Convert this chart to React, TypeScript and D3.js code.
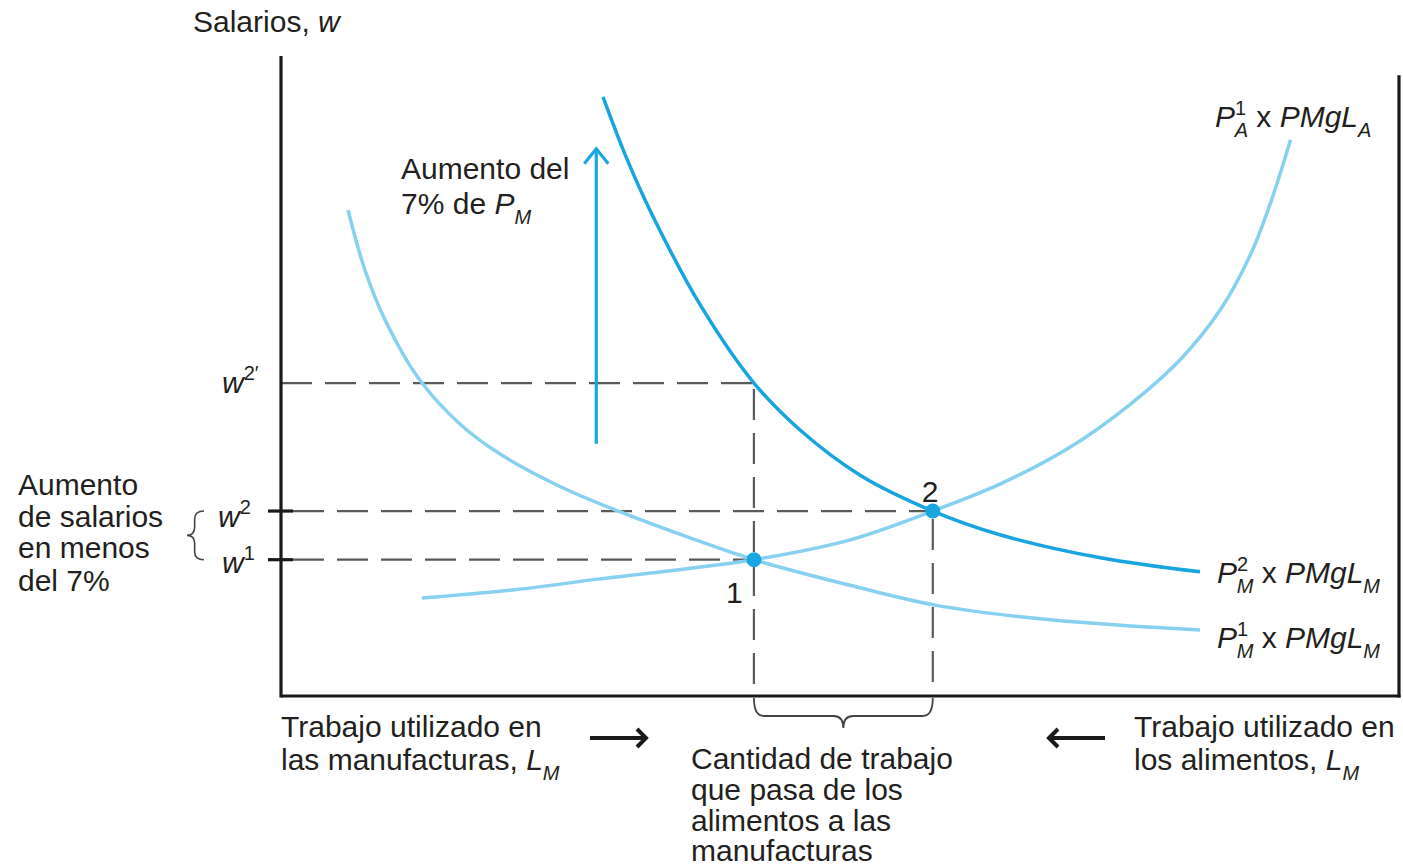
import React from "react";
import * as d3 from "d3";

// ---- data (abstract units: labour 0..100, wage 0..100) ----
const laborM1 = [6.0, 7.5, 9.3, 12.4, 16.0, 19.6, 25.0, 30.3, 36.6, 42.3, 50.9, 58.5, 68.8, 82.2];
const wageM1 = [75.9, 66.6, 58.8, 49.4, 42.5, 37.8, 32.7, 28.8, 24.7, 21.3, 17.3, 14.2, 11.9, 10.3];

const laborM2 = [28.8, 30.8, 33.0, 37.5, 42.3, 46.4, 51.8, 58.3, 64.3, 73.3, 82.2];
const wageM2 = [93.6, 84.5, 75.9, 61.1, 48.9, 41.6, 34.5, 28.9, 25.2, 21.6, 19.4];

const laborA1 = [12.6, 21.4, 28.5, 42.3, 50.9, 58.3, 64.3, 70.6, 75.9, 80.4, 84.0, 86.7, 88.6, 90.3];
const wageA1 = [15.3, 16.7, 18.3, 21.3, 24.4, 28.9, 33.1, 38.9, 45.5, 52.5, 60.3, 68.9, 77.5, 86.9];

const eqLabor = [42.3, 58.3]; // points 1 and 2
const eqWage = [21.3, 28.9];
const wagePrime = 48.9; // w2'
const arrowWage = [39.4, 85.5]; // "Aumento del 7%" arrow from/to
const arrowLabor = 28.2;
const leftAxisTop = 100;
const rightAxisTop = 97;

const FONT = "'Liberation Sans', Arial, Helvetica, sans-serif";
const TXT = "#231f20";
const LIGHT = "#86d0f0";
const DARK = "#18a4df";
const DOT = "#1aa7e1";
const DASH = "#5a5a5a";

const x = d3.scaleLinear().domain([0, 100]).range([281, 1399]);
const y = d3.scaleLinear().domain([0, 100]).range([696, 56]);

const line = d3
  .line<[number, number]>()
  .x((d) => x(d[0]))
  .y((d) => y(d[1]))
  .curve(d3.curveCatmullRom.alpha(0.5));

const zip = (a: number[], b: number[]) => a.map((v, i) => [v, b[i]] as [number, number]);

function hBrace(x1: number, x2: number, y0: number, d: number) {
  const xm = (x1 + x2) / 2;
  const r = 10;
  const yh = y0 + d * 0.6;
  return `M${x1},${y0} Q${x1},${yh} ${x1 + r},${yh} L${xm - r},${yh} Q${xm},${yh} ${xm},${y0 + d} Q${xm},${yh} ${xm + r},${yh} L${x2 - r},${yh} Q${x2},${yh} ${x2},${y0}`;
}
function vBrace(xa: number, y1: number, y2: number, d: number) {
  const ym = (y1 + y2) / 2;
  const r = 8;
  const xh = xa - d * 0.55;
  return `M${xa},${y1} Q${xh},${y1} ${xh},${y1 + r} L${xh},${ym - r} Q${xh},${ym} ${xa - d},${ym} Q${xh},${ym} ${xh},${ym + r} L${xh},${y2 - r} Q${xh},${y2} ${xa},${y2}`;
}

const CurveLabel = ({ px, py, sup, sub }: { px: number; py: number; sup: string; sub: string; }) => (
  <text x={px} y={py} fontFamily={FONT} fontSize={30} fill={TXT}>
    <tspan fontStyle="italic">P</tspan>
    <tspan fontSize={20} dy={-12}>{sup}</tspan>
    <tspan fontSize={20} fontStyle="italic" dx={-11.5} dy={22}>{sub}</tspan>
    <tspan dy={-10}> x </tspan>
    <tspan fontStyle="italic">PMgL</tspan>
    <tspan fontSize={20} fontStyle="italic" dy={10}>{sub}</tspan>
  </text>
);

export default function App() {
  const xL1 = x(eqLabor[0]);
  const xL2 = x(eqLabor[1]);
  const yW1 = y(eqWage[0]);
  const yW2 = y(eqWage[1]);
  const yW2p = y(wagePrime);
  const ax = x(arrowLabor);
  const ay0 = y(arrowWage[0]);
  const ay1 = y(arrowWage[1]);

  return (
    <svg
      width={1403}
      height={866}
      style={{ position: "absolute", left: 0, top: 0, background: "#fff" }}
    >
      {/* dashed guides */}
      <g stroke={DASH} strokeWidth={2.2} fill="none" strokeDasharray="31 13">
        <line x1={x(0)} x2={xL1} y1={yW2p} y2={yW2p} />
        <line x1={xL1} x2={xL1} y1={yW2p + 6} y2={y(0)} />
        <line x1={x(0) + 12} x2={xL2} y1={yW2} y2={yW2} />
        <line x1={xL2} x2={xL2} y1={yW2 + 8} y2={y(0)} />
        <line x1={x(0) + 12} x2={xL1} y1={yW1} y2={yW1} />
      </g>

      {/* curves */}
      <path d={line(zip(laborM1, wageM1)) || ""} fill="none" stroke={LIGHT} strokeWidth={3.5} />
      <path d={line(zip(laborA1, wageA1)) || ""} fill="none" stroke={LIGHT} strokeWidth={3.5} />
      <path d={line(zip(laborM2, wageM2)) || ""} fill="none" stroke={DARK} strokeWidth={3.5} />

      {/* equilibrium points */}
      {eqLabor.map((l, i) => (
        <circle key={i} cx={x(l)} cy={y(eqWage[i])} r={7.5} fill={DOT} />
      ))}

      {/* axes */}
      <g stroke="#1a1a1a" strokeWidth={3.2} fill="none">
        <line x1={x(0)} x2={x(0)} y1={y(leftAxisTop)} y2={y(0) + 1.5} />
        <line x1={x(0)} x2={x(100) + 1.5} y1={y(0)} y2={y(0)} />
        <line x1={x(100)} x2={x(100)} y1={y(rightAxisTop)} y2={y(0) + 1.5} />
        <line x1={x(0) - 13} x2={x(0) + 12} y1={yW2} y2={yW2} />
        <line x1={x(0) - 13} x2={x(0) + 12} y1={yW1} y2={yW1} />
      </g>

      {/* up arrow */}
      <g stroke={DOT} strokeWidth={3.2} fill="none">
        <line x1={ax} x2={ax} y1={ay0} y2={ay1} />
        <polyline points={`${ax - 12},${ay1 + 15} ${ax},${ay1} ${ax + 12},${ay1 + 15}`} />
      </g>

      {/* bottom arrows */}
      <g stroke="#1a1a1a" strokeWidth={4} fill="none">
        <line x1={590} x2={645} y1={738} y2={738} />
        <polyline points="637,729 646,738 637,747" />
        <line x1={1105} x2={1050} y1={738} y2={738} />
        <polyline points="1058,729 1049,738 1058,747" />
      </g>

      {/* braces */}
      <path d={hBrace(xL1, xL2, y(0) + 2, 30)} fill="none" stroke="#444" strokeWidth={1.8} />
      <path d={vBrace(204, yW2, yW1, 17)} fill="none" stroke="#444" strokeWidth={1.6} />

      {/* texts */}
      <g fontFamily={FONT} fontSize={30} fill={TXT}>
        <text x={193} y={32}>
          Salarios, <tspan fontStyle="italic">w</tspan>
        </text>

        <text x={401} y={179}>Aumento del</text>
        <text x={401} y={214}>
          7% de <tspan fontStyle="italic">P</tspan>
          <tspan fontSize={20} fontStyle="italic" dy={10}>M</tspan>
        </text>

        <text x={222} y={yW2p + 10}>
          <tspan fontStyle="italic">w</tspan>
          <tspan fontSize={20} dy={-13}>2′</tspan>
        </text>
        <text x={218} y={yW2 + 16}>
          <tspan fontStyle="italic">w</tspan>
          <tspan fontSize={20} dy={-13}>2</tspan>
        </text>
        <text x={222} y={yW1 + 13}>
          <tspan fontStyle="italic">w</tspan>
          <tspan fontSize={20} dy={-13}>1</tspan>
        </text>

        <text x={18} y={495}>Aumento</text>
        <text x={18} y={527}>de salarios</text>
        <text x={18} y={558}>en menos</text>
        <text x={18} y={591}>del 7%</text>

        <text x={xL1 - 28} y={yW1 + 43}>1</text>
        <text x={xL2 - 11} y={yW2 - 9}>2</text>

        <text x={281} y={737}>Trabajo utilizado en</text>
        <text x={281} y={770}>
          las manufacturas, <tspan fontStyle="italic">L</tspan>
          <tspan fontSize={20} fontStyle="italic" dy={10}>M</tspan>
        </text>

        <text x={1134} y={737}>Trabajo utilizado en</text>
        <text x={1134} y={770}>
          los alimentos, <tspan fontStyle="italic">L</tspan>
          <tspan fontSize={20} fontStyle="italic" dy={10}>M</tspan>
        </text>

        <text x={691} y={769}>Cantidad de trabajo</text>
        <text x={691} y={800}>que pasa de los</text>
        <text x={691} y={831}>alimentos a las</text>
        <text x={691} y={861}>manufacturas</text>
      </g>

      <CurveLabel px={1215} py={127} sup="1" sub="A" />
      <CurveLabel px={1217} py={583} sup="2" sub="M" />
      <CurveLabel px={1217} py={648} sup="1" sub="M" />
    </svg>
  );
}
